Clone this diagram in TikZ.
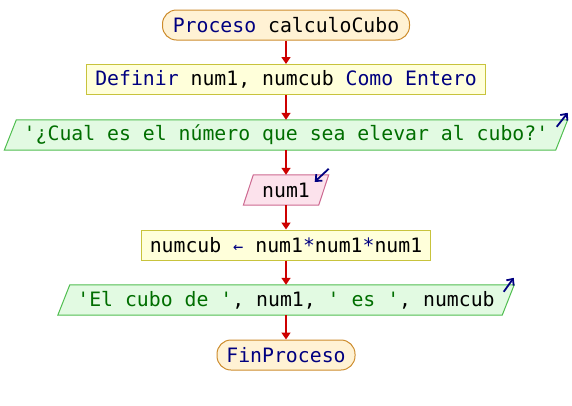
\documentclass[tikz,border=0pt]{standalone}
\usepackage{fontspec}
\setmonofont{DejaVu Sans Mono}
\usetikzlibrary{arrows.meta,calc,backgrounds}
\definecolor{kwc}{RGB}{0,0,128}
\definecolor{strc}{RGB}{0,110,0}
\definecolor{termfill}{RGB}{255,242,212}
\definecolor{termdraw}{RGB}{205,140,45}
\definecolor{procfill}{RGB}{255,255,218}
\definecolor{procdraw}{RGB}{200,195,60}
\definecolor{outfill}{RGB}{226,250,226}
\definecolor{outdraw}{RGB}{80,190,80}
\definecolor{infill}{RGB}{252,226,236}
\definecolor{indraw}{RGB}{205,105,145}
\definecolor{flowc}{RGB}{205,0,0}
\newcommand{\kw}[1]{\textcolor{kwc}{#1}}
\newcommand{\str}[1]{\textcolor{strc}{#1}}
\tikzset{
  box/.style={rectangle, inner sep=0pt, minimum height=30pt, align=center},
  terminal/.style={box, draw=termdraw, fill=termfill, rounded corners=14pt, line width=1pt},
  procbox/.style={box, draw=procdraw, fill=procfill, line width=1pt},
  iobox/.style={box},
  outshape/.style={draw=outdraw, fill=outfill, line width=1pt},
  inshape/.style={draw=indraw, fill=infill, line width=1pt},
  flow/.style={draw=flowc, line width=1.6pt, -{Triangle[width=9pt,length=7pt]}},
  iomark/.style={draw=kwc, line width=1.8pt, -{Straight Barb[width=9pt,length=5pt]}}
}
\begin{document}
\begin{tikzpicture}[x=1pt,y=1pt, font=\ttfamily\fontsize{19.8}{22}\selectfont]
\useasboundingbox (0,0) rectangle (572,-405);

% flowchart elements
\node[terminal, minimum width=247pt] (ini) at (286,-25) {\kw{Proceso} calculoCubo};
\node[procbox, minimum width=399pt] (def) at (286,-79.5) {\kw{Definir} num1, numcub \kw{Como Entero}};
\node[iobox, minimum width=551pt] (out1) at (286,-135) {\str{'¿Cual es el número que sea elevar al cubo?'}};
\node[iobox, minimum width=75pt] (in1) at (286,-190) {num1};
\node[procbox, minimum width=289pt] (asg) at (286,-245) {numcub \kw{\fontsize{17}{18}\selectfont ←} num1\kw{*}num1\kw{*}num1};
\node[iobox, minimum width=444pt] (out2) at (286,-300) {\str{'El cubo de '}, num1, \str{' es '}, numcub};
\node[terminal, minimum width=138pt] (fin) at (286,-355) {\kw{FinProceso}};

% parallelogram outlines for input/output
\begin{scope}[on background layer]
  \foreach \n/\s/\st in {out1/6/outshape, out2/6/outshape, in1/5/inshape}{
    \path[\st] ($(\n.south west)+(-\s,0)$) -- ($(\n.north west)+(\s,0)$)
      -- ($(\n.north east)+(\s,0)$) -- ($(\n.south east)+(-\s,0)$) -- cycle;
  }
\end{scope}

% output / input markers
\draw[iomark] ($(out1.north east)+(-5,-7)$) -- ($(out1.north east)+(6,7)$);
\draw[iomark] ($(in1.north east)+(5,6)$) -- ($(in1.north east)+(-9,-7)$);
\draw[iomark] ($(out2.north east)+(-4.5,-7)$) -- ($(out2.north east)+(5.5,7)$);

% flow connectors
\draw[flow] (ini.south) -- (def.north);
\draw[flow] (def.south) -- (out1.north);
\draw[flow] (out1.south) -- (in1.north);
\draw[flow] (in1.south) -- (asg.north);
\draw[flow] (asg.south) -- (out2.north);
\draw[flow] (out2.south) -- (fin.north);
\end{tikzpicture}
\end{document}
